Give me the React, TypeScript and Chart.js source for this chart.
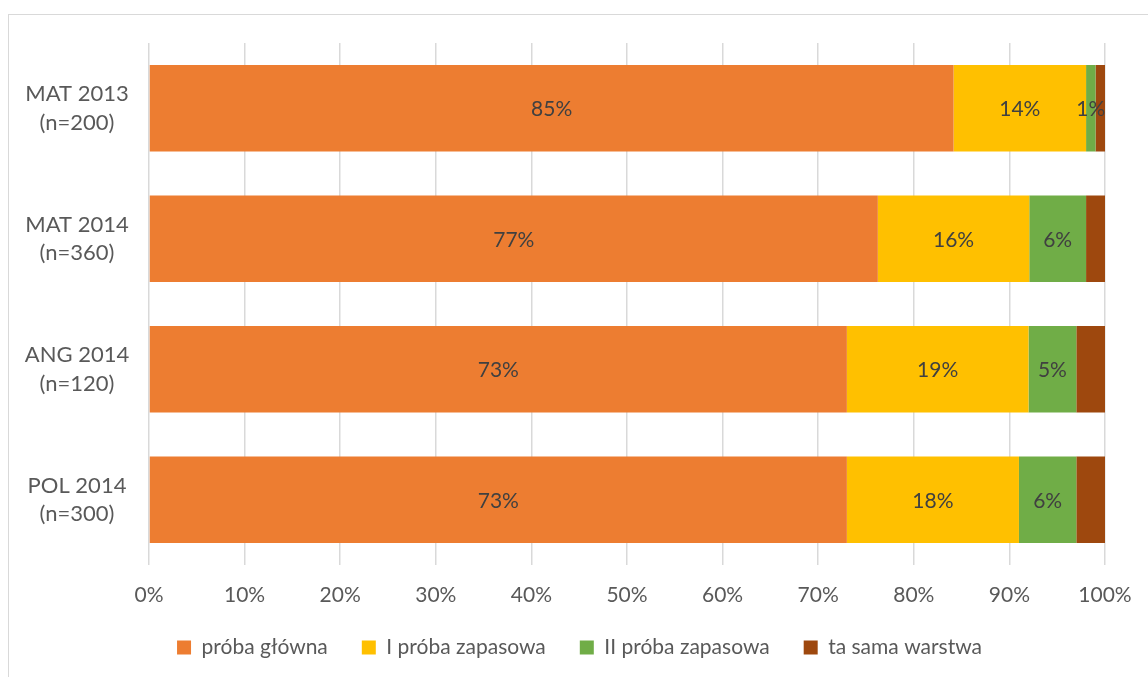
import React, { useEffect, useRef } from 'react';
import { Chart, registerables } from 'chart.js';

Chart.register(...registerables);

const categories: string[][] = [
  ['MAT 2013', '(n=200)'],
  ['MAT 2014', '(n=360)'],
  ['ANG 2014', '(n=120)'],
  ['POL 2014', '(n=300)'],
];
const seriesNames = ['próba główna', 'I próba zapasowa', 'II próba zapasowa', 'ta sama warstwa'];
const probaGlowna = [85, 77, 73, 73];
const probaZapasowa1 = [14, 16, 19, 18];
const probaZapasowa2 = [1, 6, 5, 6];
const taSamaWarstwa = [1, 2, 3, 3];
const seriesValues = [probaGlowna, probaZapasowa1, probaZapasowa2, taSamaWarstwa];
const seriesColors = ['#ED7D31', '#FFC000', '#70AD47', '#9E480E'];
const seriesShowLabels = [true, true, true, false];

const FONT = 'Lato';
const TEXT = '#595959';
const LABEL = '#404040';
const Y_FONT_SIZE = 22;

const totals = categories.map((_, i) => seriesValues.reduce((s, arr) => s + arr[i], 0));

const dataLabelPlugin = {
  id: 'dataLabels',
  afterDatasetsDraw(chart: any) {
    const ctx = chart.ctx;
    ctx.save();
    ctx.font = `21px ${FONT}`;
    ctx.fillStyle = LABEL;
    ctx.textAlign = 'center';
    ctx.textBaseline = 'middle';
    chart.data.datasets.forEach((ds: any, di: number) => {
      if (!seriesShowLabels[di]) return;
      const meta = chart.getDatasetMeta(di);
      meta.data.forEach((el: any, i: number) => {
        const { x, base, y } = el.getProps(['x', 'base', 'y'], true);
        const raw = seriesValues[di][i];
        ctx.fillText(`${raw}%`, (x + base) / 2, y + 1);
      });
    });
    ctx.restore();
  },
};

const legendShiftPlugin = {
  id: 'legendShift',
  afterLayout(chart: any) {
    const l = chart.legend;
    if (l) {
      l.left += 23;
      l.right += 23;
    }
  },
};

export default function App() {
  const ref = useRef<HTMLCanvasElement | null>(null);

  useEffect(() => {
    if (!ref.current) return;
    const mctx = document.createElement('canvas').getContext('2d')!;
    mctx.font = `${Y_FONT_SIZE}px ${FONT}`;
    let widest = 0;
    categories.forEach((lines) => lines.forEach((t) => (widest = Math.max(widest, mctx.measureText(t).width))));
    const yPad = Math.max(0, 72 - widest / 2);

    const chart = new Chart(ref.current, {
      type: 'bar',
      data: {
        labels: categories,
        datasets: seriesNames.map((name, di) => ({
          label: name,
          data: seriesValues[di].map((v, i) => (v / totals[i]) * 100),
          backgroundColor: seriesColors[di],
          borderWidth: 0,
          categoryPercentage: 1,
          barPercentage: 0.662,
        })),
      },
      options: {
        indexAxis: 'y',
        responsive: false,
        animation: false,
        devicePixelRatio: 1,
        layout: { padding: { top: 43, right: 43, left: 8, bottom: 9 } },
        scales: {
          x: {
            stacked: true,
            min: 0,
            max: 100,
            afterFit: (scale: any) => {
              scale.height = 38;
              scale.paddingLeft = 0;
              scale.paddingRight = 0;
              scale._computeLabelArea = () => undefined;
            },
            ticks: {
              stepSize: 10,
              callback: (v: any) => `${v}%`,
              font: { family: FONT, size: 21 },
              color: TEXT,
              padding: 18,
            },
            grid: { color: '#d9d9d9', lineWidth: 1.5, drawTicks: false },
            border: { display: false },
          },
          y: {
            stacked: true,
            grid: { display: false, drawTicks: false },
            border: { display: false },
            afterFit: (scale: any) => {
              scale.width = 141;
              scale.paddingTop = 0;
              scale.paddingBottom = 0;
            },
            ticks: {
              crossAlign: 'center',
              padding: yPad,
              font: { family: FONT, size: Y_FONT_SIZE, lineHeight: 1.3 },
              color: TEXT,
            },
          },
        },
        plugins: {
          legend: {
            position: 'bottom',
            labels: {
              boxWidth: 14,
              boxHeight: 14,
              padding: 34,
              font: { family: FONT, size: 21 },
              color: TEXT,
            },
          },
          tooltip: { enabled: false },
        },
      },
      plugins: [dataLabelPlugin, legendShiftPlugin],
    } as any);
    return () => chart.destroy();
  }, []);

  return (
    <div style={{ position: 'fixed', left: 0, top: 0, width: 1148, height: 677, overflow: 'hidden', background: '#fff' }}>
      <div
        style={{
          position: 'absolute',
          left: 8,
          top: 14,
          width: 1200,
          height: 700,
          border: '1.5px solid #d9d9d9',
          boxSizing: 'border-box',
        }}
      />
      <canvas ref={ref} width={1148} height={677} style={{ position: 'absolute', left: 0, top: 0, display: 'block' }} />
    </div>
  );
}
